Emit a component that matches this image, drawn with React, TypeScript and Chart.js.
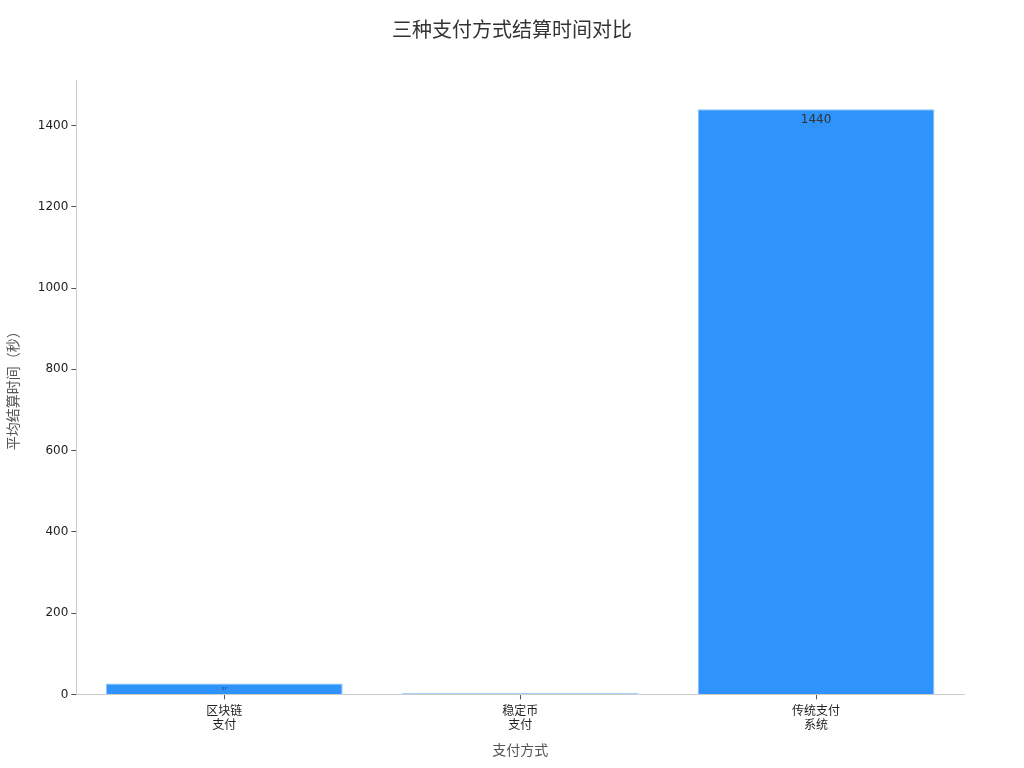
import React, { useRef, useEffect } from 'react';
import Chart from 'chart.js/auto';

const FONT = "'DejaVu Sans', 'Noto Sans CJK SC', sans-serif";

const categories = [['区块链', '支付'], ['稳定币', '支付'], ['传统支付', '系统']];
const settleSeconds = [27, 3, 1440];
const yTicks = [0, 200, 400, 600, 800, 1000, 1200, 1400];

const BAR = '#2e93fa';
const BAR_EDGE = '#8cc4f5';
const AXIS = '#cccccc';
const TITLE = '三种支付方式结算时间对比';

// title centred on the whole canvas, not the padded box
const pageTitle = {
  id: 'pageTitle',
  afterDraw(chart: any) {
    const { ctx, width } = chart;
    ctx.save();
    ctx.font = `20px ${FONT}`;
    ctx.fillStyle = '#333333';
    ctx.textAlign = 'center';
    ctx.textBaseline = 'middle';
    ctx.fillText(TITLE, width / 2, 32);
    ctx.restore();
  },
};

// value text drawn inside the top of each bar
const valueLabels = {
  id: 'valueLabels',
  afterDatasetsDraw(chart: any) {
    const { ctx } = chart;
    const meta = chart.getDatasetMeta(0);
    meta.data.forEach((bar: any, i: number) => {
      const h = bar.base - bar.y;
      const size = Math.min(12, h * 0.4);
      if (size < 3) return;
      ctx.save();
      ctx.font = `${size}px ${FONT}`;
      ctx.fillStyle = '#333333';
      ctx.textAlign = 'center';
      ctx.textBaseline = 'middle';
      ctx.fillText(String(settleSeconds[i]), bar.x, bar.y + Math.min(11, h / 2));
      ctx.restore();
    });
  },
};

export default function App() {
  const ref = useRef<HTMLCanvasElement>(null);

  useEffect(() => {
    if (!ref.current) return;
    const chart = new Chart(ref.current, {
      type: 'bar',
      data: {
        labels: categories,
        datasets: [{
          data: settleSeconds,
          backgroundColor: BAR,
          borderColor: BAR_EDGE,
          borderWidth: 1,
          barPercentage: 0.8,
          categoryPercentage: 1,
        }],
      },
      options: {
        animation: false,
        responsive: true,
        maintainAspectRatio: false,
        layout: { padding: { left: 6, right: 60, top: 80, bottom: 8 } },
        plugins: {
          legend: { display: false },
          tooltip: { enabled: false },
          title: { display: false },
        },
        scales: {
          x: {
            grid: { display: true, offset: false, drawOnChartArea: false, drawTicks: true, tickLength: 5, color: '#555' },
            border: { display: true, color: AXIS },
            ticks: { color: '#222', font: { family: FONT, size: 12 }, padding: 5 },
            title: {
              display: true,
              text: '支付方式',
              color: '#555555',
              font: { family: FONT, size: 14 },
              padding: { top: 5, bottom: 0 },
            },
          },
          y: {
            min: 0,
            max: 1512,
            afterBuildTicks: (axis: any) => { axis.ticks = yTicks.map((v) => ({ value: v })); },
            grid: { display: true, drawOnChartArea: false, drawTicks: true, tickLength: 5, color: '#555' },
            border: { display: true, color: AXIS },
            ticks: { color: '#222', font: { family: FONT, size: 12 }, padding: 3, callback: (v: any) => String(v) },
            title: {
              display: true,
              text: '平均结算时间（秒）',
              color: '#555555',
              font: { family: FONT, size: 14 },
              padding: { top: 0, bottom: 12 },
            },
          },
        },
      },
      plugins: [valueLabels, pageTitle],
    });
    return () => chart.destroy();
  }, []);

  return (
    <div style={{ position: 'absolute', left: 0, top: 0, width: 1024, height: 768, background: '#fff' }}>
      <canvas ref={ref}></canvas>
    </div>
  );
}
